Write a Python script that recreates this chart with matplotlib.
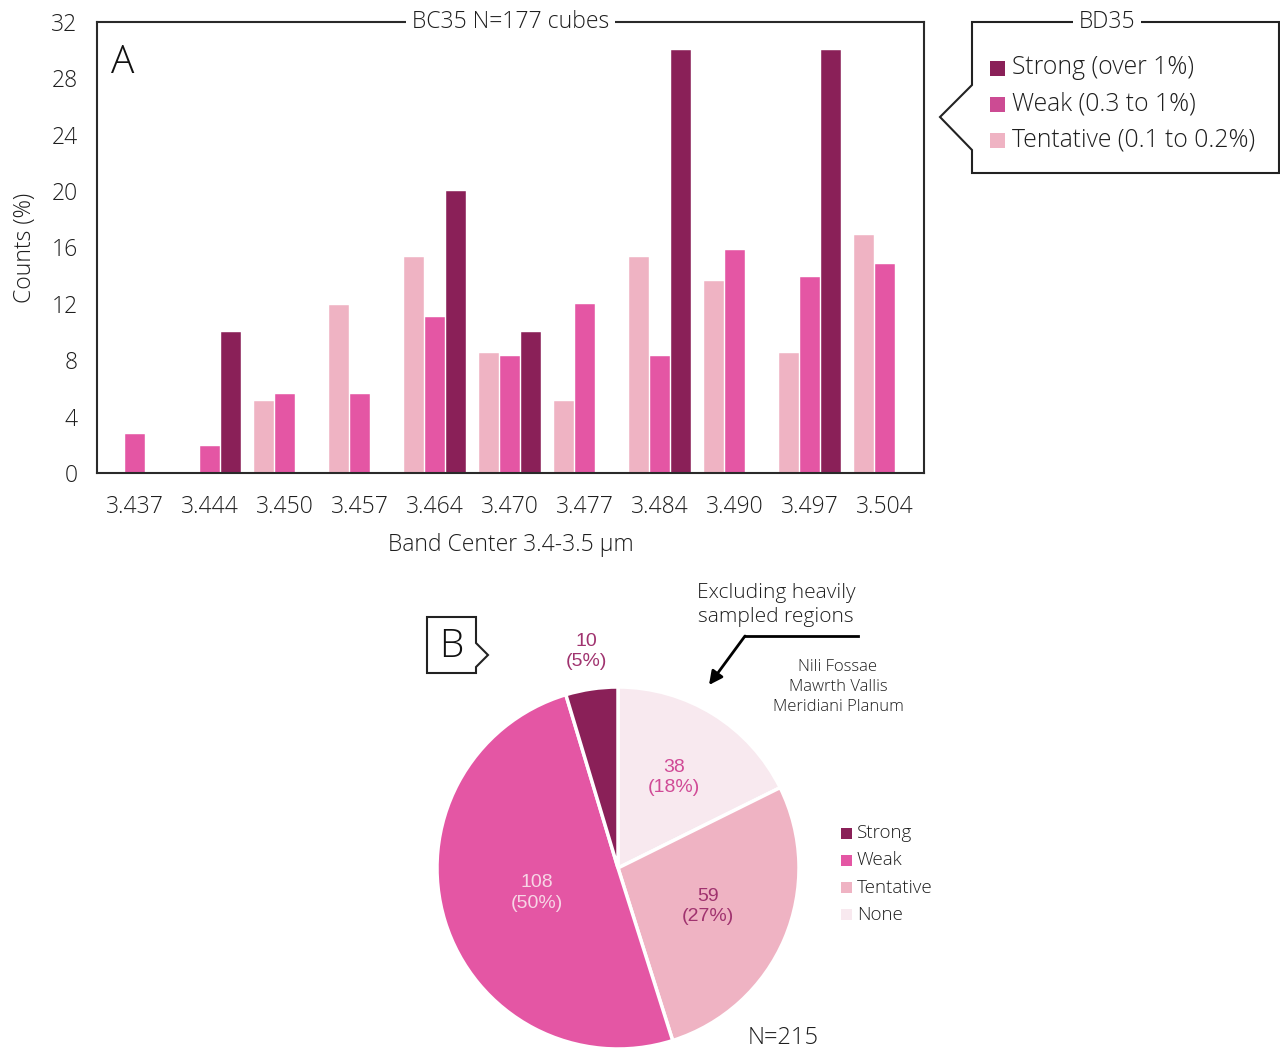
import matplotlib
matplotlib.use("Agg")
import matplotlib.pyplot as plt
import numpy as np
from matplotlib.patches import Polygon, FancyArrowPatch, Rectangle

# ---------------- data ----------------
categories = ["3.437", "3.444", "3.450", "3.457", "3.464", "3.470",
              "3.477", "3.484", "3.490", "3.497", "3.504"]
tentative = [0, 0, 5.1, 11.9, 15.3, 8.5, 5.1, 15.3, 13.6, 8.5, 16.9]
weak      = [2.8, 1.9, 5.6, 5.6, 11.1, 8.3, 12.0, 8.3, 15.8, 13.9, 14.8]
strong    = [0, 10.0, 0, 0, 20.0, 10.0, 0, 30.0, 0, 30.0, 0]
yticks = [0, 4, 8, 12, 16, 20, 24, 28, 32]

pie_labels = ["None", "Tentative", "Weak", "Strong"]
pie_counts = [38, 59, 108, 10]
legend_bar = ["Strong (over 1%)", "Weak (0.3 to 1%)", "Tentative (0.1 to 0.2%)"]
legend_pie = ["Strong", "Weak", "Tentative", "None"]
regions = ["Nili Fossae", "Mawrth Vallis", "Meridiani Planum"]

C_STRONG = "#8A2058"
C_WEAK = "#E456A4"
C_TENT = "#EFB3C3"
C_NONE = "#F8E9EF"

FONT = ["Open Sans", "DejaVu Sans"]
plt.rcParams["font.family"] = FONT
plt.rcParams["font.weight"] = 300
plt.rcParams["axes.labelweight"] = 300

W, H = 1280, 1054
fig = plt.figure(figsize=(W / 100, H / 100), dpi=100)

def fx(px):
    return px / W

def fy(py):
    return 1 - py / H

TXT = "#1e1e1e"

# ---------------- bar chart ----------------
L, R, T, B = 97, 924, 22, 473
ax = fig.add_axes([fx(L), fy(B), (R - L) / W, (B - T) / H])
x = np.arange(len(categories))
bw = 0.255
off = 0.28
ax.bar(x - off, tentative, bw, color=C_TENT, edgecolor="white", linewidth=0.3)
ax.bar(x, weak, bw, color=C_WEAK, edgecolor="white", linewidth=0.3)
ax.bar(x + off, strong, bw, color=C_STRONG, edgecolor="white", linewidth=0.3)
ax.set_xlim(-0.507, len(categories) - 1 + 0.52)
ax.set_ylim(0, 32)
ax.set_yticks(yticks)
ax.set_yticklabels([str(v) for v in yticks], fontsize=16.5, color=TXT)
ax.set_xticks(x)
ax.set_xticklabels(categories, fontsize=16.5, color=TXT)
ax.tick_params(axis="both", length=0)
ax.tick_params(axis="x", pad=16)
ax.tick_params(axis="y", pad=14)
for s in ax.spines.values():
    s.set_linewidth(1.5)
    s.set_color("#2a2a2a")
ax.set_ylabel("Counts (%)", fontsize=16.5, color=TXT, labelpad=10)
ax.set_xlabel("Band Center 3.4-3.5 µm", fontsize=16.5, color=TXT, labelpad=10)
ax.text(0.5, 1.0, "BC35 N=177 cubes", transform=ax.transAxes, ha="center",
        va="center", fontsize=16.5, color=TXT,
        bbox=dict(facecolor="white", edgecolor="none", pad=4))
ax.text(0.017, 0.91, "A", transform=ax.transAxes, ha="left", va="center",
        fontsize=28, color="#111111")

# ---------------- overlay (figure pixel coords) ----------------
ov = fig.add_axes([0, 0, 1, 1], zorder=5)
ov.set_xlim(0, W)
ov.set_ylim(H, 0)
ov.axis("off")
ov.patch.set_alpha(0)

# legend callout box for bar chart
lb = [(972, 22), (1279, 22), (1279, 173), (972, 173), (972, 150),
      (940, 117), (972, 85)]
ov.add_patch(Polygon(lb, closed=True, facecolor="white", edgecolor="#222222",
                     linewidth=1.5))
ov.text(1107, 22, "BD35", ha="center", va="center", fontsize=16.5, color=TXT,
        bbox=dict(facecolor="white", edgecolor="none", pad=4))
for i, (lab, col) in enumerate(zip(legend_bar, [C_STRONG, "#CC4B93", C_TENT])):
    yy = 68 + i * 36
    ov.add_patch(Rectangle((990, yy - 7), 15, 15, facecolor=col, edgecolor="none"))
    ov.text(1012, yy, lab, ha="left", va="center", fontsize=17.8, color=TXT)

# B box
bpoly = [(427, 617), (476, 617), (476, 643), (488, 655), (476, 667),
         (476, 673), (427, 673)]
ov.add_patch(Polygon(bpoly, closed=True, facecolor="white", edgecolor="#222222",
                     linewidth=1.5))
ov.text(451, 647, "B", ha="center", va="center", fontsize=28, color="#111111")

# annotation
ov.text(776, 605, "Excluding heavily\nsampled regions", ha="center", va="center",
        fontsize=15, color=TXT, linespacing=1.3)
ov.plot([858, 745], [636, 636], color="black", lw=2)
ov.add_patch(FancyArrowPatch((745, 636), (709, 685), arrowstyle="-|>",
                             mutation_scale=20, color="black", lw=2,
                             shrinkA=0, shrinkB=0))
ov.text(838, 687, "\n".join(regions), ha="center", va="center", fontsize=12,
        color=TXT, linespacing=1.3)
ov.text(783, 1038, "N=215", ha="center", va="center", fontsize=17, color=TXT)

# pie legend
for i, (lab, col) in enumerate(zip(legend_pie, [C_STRONG, C_WEAK, C_TENT, C_NONE])):
    yy = 833 + i * 27.3
    ov.add_patch(Rectangle((841, yy - 5.5), 11, 11, facecolor=col, edgecolor="none"))
    ov.text(857, yy, lab, ha="left", va="center", fontsize=13.5, color=TXT)

# ---------------- pie ----------------
cx, cy, rad = 618, 868, 181
pax = fig.add_axes([fx(cx - rad), fy(cy + rad), 2 * rad / W, 2 * rad / H], zorder=4)
wedges, _ = pax.pie(pie_counts, colors=[C_NONE, C_TENT, C_WEAK, C_STRONG],
                    startangle=90, counterclock=False,
                    wedgeprops=dict(edgecolor="white", linewidth=2.5))
pax.set_xlim(-1, 1)
pax.set_ylim(-1, 1)
pax.set_aspect("equal")
pax.axis("off")
total = sum(pie_counts)
dists = [0.59, 0.54, 0.47, 1.21]
lcols = ["#D04A96", "#A0336F", "#F7D6E6", "#A0336F"]
for w, n, d, c in zip(wedges, pie_counts, dists, lcols):
    ang = np.deg2rad((w.theta1 + w.theta2) / 2)
    pax.text(d * np.cos(ang), d * np.sin(ang), f"{n}\n({round(100 * n / total)}%)",
             ha="center", va="center", fontsize=14, color=c,
             family=["Liberation Sans", "DejaVu Sans"], weight="normal",
             linespacing=1.25)

fig.savefig("out.png", dpi=100)
